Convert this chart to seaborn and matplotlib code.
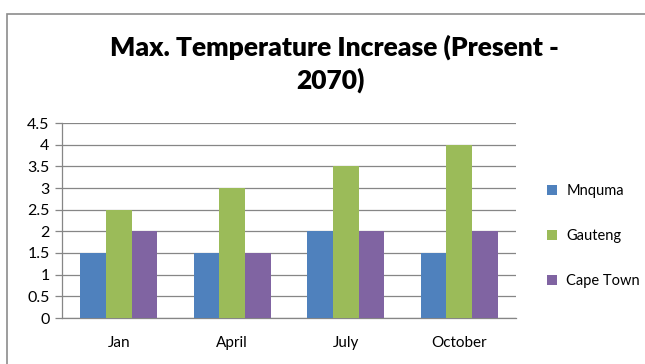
import matplotlib
matplotlib.use("Agg")
import matplotlib.pyplot as plt
from matplotlib.patches import Rectangle
import seaborn as sns
import pandas as pd

months = ["Jan", "April", "July", "October"]
regions = ["Mnquma", "Gauteng", "Cape Town"]
mnquma = [1.5, 1.5, 2.0, 1.5]
gauteng = [2.5, 3.0, 3.5, 4.0]
cape_town = [2.0, 1.5, 2.0, 2.0]
colors = ["#4F81BD", "#9BBB59", "#8064A2"]
yticks = [0, 0.5, 1, 1.5, 2, 2.5, 3, 3.5, 4, 4.5]

df = pd.DataFrame({
    "Month": months * 3,
    "Region": [r for r in regions for _ in months],
    "Value": mnquma + gauteng + cape_town,
})

sns.set_theme(style="white")
plt.rcParams["font.family"] = ["Lato", "DejaVu Sans"]
plt.rcParams["text.color"] = "black"
plt.rcParams["xtick.color"] = "black"
plt.rcParams["ytick.color"] = "black"

fig = plt.figure(figsize=(6.45, 3.64), dpi=100)
ax = fig.add_axes([62 / 645, 1 - 318 / 364, (516 - 62) / 645, (318 - 123) / 364])

sns.barplot(data=df, x="Month", y="Value", hue="Region", order=months,
            hue_order=regions, palette=colors, width=0.68, saturation=1,
            edgecolor="none", linewidth=0, ax=ax, zorder=3)

grid_c = "#868686"
ax.set_ylim(0, 4.5)
ax.set_xlim(-0.5, len(months) - 0.5)
ax.set_yticks(yticks)
ax.set_yticklabels([f"{v:g}" for v in yticks], fontsize=11.5)
ax.yaxis.grid(True, color=grid_c, linewidth=0.9, zorder=0)
ax.set_axisbelow(True)
ax.set_xlabel("")
ax.set_ylabel("")
for s in ["top", "right"]:
    ax.spines[s].set_visible(False)
for s in ["left", "bottom"]:
    ax.spines[s].set_color(grid_c)
    ax.spines[s].set_linewidth(0.9)

# category labels centred, tick marks on group boundaries
ax.set_xticks(range(len(months)))
ax.set_xticklabels(months, fontsize=11)
ax.tick_params(axis="x", length=0, pad=13)
ax.set_xticks([i - 0.5 for i in range(len(months) + 1)], minor=True)
ax.tick_params(axis="x", which="minor", length=5, color=grid_c, width=0.9, direction="out")
ax.tick_params(axis="y", length=5, color=grid_c, width=0.9, direction="out", pad=4, left=True)

leg = ax.legend(loc="center left", bbox_to_anchor=(1.04, 0.42), frameon=False,
                fontsize=10.5, handlelength=0.7, handleheight=0.7,
                labelspacing=2.1, handletextpad=0.6)

fig.text(0.518, 1 - 47 / 364, "Max. Temperature Increase (Present -", ha="center",
         va="center", fontsize=19, fontweight="heavy")
fig.text(0.512, 1 - 80 / 364, "2070)", ha="center", va="center",
         fontsize=19, fontweight="heavy")

# chart outline
fig.patches.append(Rectangle((7 / 645, -0.05), 1.2, 1 - 14 / 364 + 0.05,
                             transform=fig.transFigure, fill=False,
                             edgecolor="#8c8c8c", linewidth=1.2))

fig.savefig("out.png", dpi=100, facecolor="white")
